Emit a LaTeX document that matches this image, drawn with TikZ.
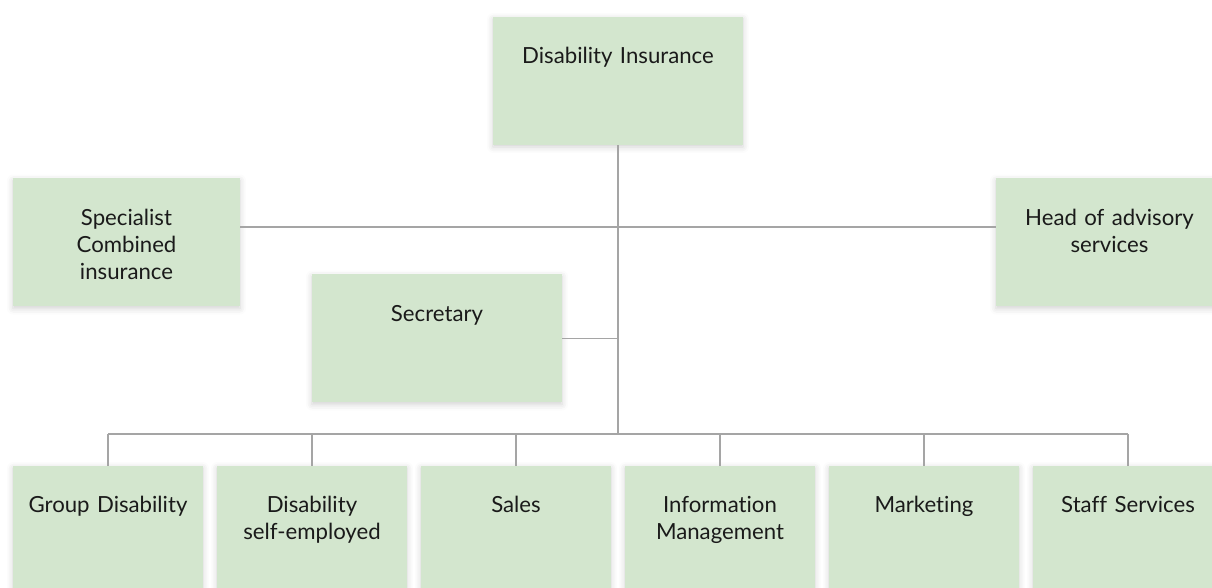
\documentclass[tikz,border=0pt]{standalone}
\usepackage{fontspec}
\setmainfont{Lato}[Ligatures={NoCommon}]
\usetikzlibrary{shadows.blur}
\definecolor{boxgreen}{HTML}{D3E6CE}
\definecolor{linegray}{HTML}{A5A5A5}
\definecolor{inkblack}{HTML}{1A1A1A}
\tikzset{
	unit/.style={rectangle, fill=boxgreen, inner sep=0pt, align=center, text width=#1,
		font=\fontsize{11.1}{13.5}\selectfont, text=inkblack, text height=23.5pt, text depth=40.5pt,
		blur shadow={shadow xshift=0pt, shadow yshift=-1pt, shadow blur radius=3pt, shadow opacity=18}},
	unit/.default=95pt,
	link/.style={draw=linegray, line width=0.75pt}
}
\begin{document}
\begin{tikzpicture}[x=0.5pt, y=-0.5pt] %Organigrama
					\useasboundingbox (0,0) rectangle (1212,588); %Margens
						%Caixas
					\node[unit=125pt] (top) at (618,81) {Disability Insurance}; %Topo
					\node[unit=113.5pt] (spec) at (126.5,242.5) {Specialist\\Combined\\insurance};
					\node[unit=113.5pt] (head) at (1109.5,242.5) {Head of advisory\\services};
					\node[unit=125pt] (secr) at (437,338.5) {Secretary};
					\foreach \name/\x/\txt in {group/108/{Group Disability}, selfemp/312/{Disability\\self-employed}, sales/516/{Sales}, info/720/{Information\\Management}, mkt/924/{Marketing}, staff/1128/{Staff Services}}
						\node[unit] (\name) at (\x,530) {\txt}; %Departamentos
						%Ligações
					\coordinate (side) at (618,227);
					\coordinate (bar) at (618,434);
					\draw[link] (top.south) -- (bar); %Tronco
					\draw[link] (spec.east |- side) -- (head.west |- side);
					\draw[link] (secr.east) -- (secr.east -| bar);
					\draw[link] (group.north |- bar) -- (staff.north |- bar); %Barra
					\foreach \name in {group, selfemp, sales, info, mkt, staff}
						\draw[link] (\name.north |- bar) -- (\name.north);
				\end{tikzpicture}
\end{document}
